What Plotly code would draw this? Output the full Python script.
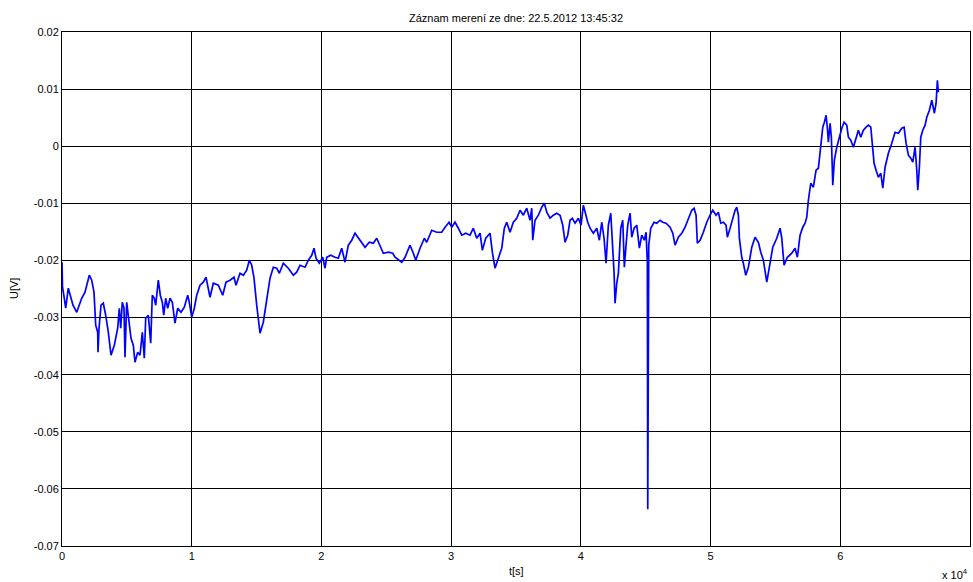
import plotly.graph_objects as go

# Recorded voltage U[V] against time t[s]
t_s = [
    0, 39, 177, 285, 486, 848, 1133, 1519, 1773, 1904, 2105, 2290, 2467, 2598, 2752, 2776,
    2853, 3007, 3184, 3369, 3570, 3778, 4032, 4294, 4418, 4526, 4649, 4780, 4857, 4988,
    5112, 5320, 5497, 5628, 5836, 6014, 6191, 6345, 6453, 6654, 6839, 6962, 7116, 7224,
    7425, 7579, 7733, 7841, 7995, 8150, 8327, 8504, 8712, 8920, 9175, 9429, 9691, 9815,
    10000, 10200, 10385, 10640, 10894, 11102,
    11411, 11665, 12051, 12390, 12644, 12953, 13261, 13415, 13724, 13978, 14240, 14441,
    14626, 14803, 15011, 15266, 15520, 15782, 16037, 16291, 16553, 16754, 17062, 17448,
    17833, 18096, 18350, 18735, 18990, 19252, 19429, 19583, 19838, 20100, 20277, 20408,
    20717, 21048, 21303, 21565, 21819, 22074, 22336, 22590, 22845, 23107, 23361, 23693,
    24001, 24264, 24518, 24772, 25158, 25497,
    25674, 26191, 26445, 26831, 27085, 27270, 27602, 27934, 28119, 28504, 28890, 29275,
    29529, 29838, 30046, 30300, 30555, 30817, 31125, 31457, 31711, 31973, 32228, 32405,
    32667, 32999, 33176, 33384, 33639, 33901, 34101, 34286, 34541, 34795, 35057, 35312,
    35566, 35828, 36083, 36214, 36291, 36468, 36723, 36985, 37185, 37370, 37625, 37879,
    38141, 38396, 38604, 38781, 38989, 39167, 39344, 39552, 39807, 40015, 40192, 40377,
    40531,
    40709, 40963, 41225, 41426, 41611, 41788, 41942, 42120, 42305, 42459, 42559, 42636,
    42767, 42891, 43076, 43230, 43353, 43484, 43615, 43793, 43924, 44101, 44309, 44510,
    44695, 44895, 45026, 45126, 45157, 45234, 45389, 45643, 45851, 46106, 46314, 46568,
    46877, 47085, 47262, 47517, 47779, 48033, 48288, 48550, 48727, 48881, 48981, 49190,
    49444, 49706, 49961, 50169, 50423, 50601, 50786, 50986, 51194, 51294, 51503, 51711,
    51888, 52019, 52144,
    52219, 52404, 52528, 52713, 52914, 53176, 53430, 53685, 53870, 54070, 54333, 54533,
    54795, 55104, 55358, 55489, 55666, 55921, 56260, 56514, 56692, 56900, 57108, 57285,
    57416,
    57540, 57725, 57926, 58133, 58311, 58496, 58650, 58774, 58905, 59005, 59082, 59213,
    59313, 59421, 59544, 59729, 59930, 60115, 60292, 60500, 60624, 60809, 61010, 61217,
    61395, 61580, 61780, 61988, 62166, 62351, 62505, 62605, 62759, 62937, 63122, 63276,
    63453, 63708, 63970, 64224, 64479, 64741, 64918, 65072, 65250, 65435, 65589, 65766,
    65897, 65974, 66097, 66205, 66359, 66537, 66668, 66869, 67054, 67178, 67255, 67385,
    67486, 67563,
]

u_v = [
    -0.02031, -0.02469, -0.02662, -0.02837, -0.02486, -0.02784, -0.02907, -0.02662,
    -0.02556, -0.02434, -0.02259, -0.02346, -0.02556, -0.03134, -0.03257, -0.03607,
    -0.03187, -0.02784, -0.02749, -0.02959, -0.03257, -0.03660, -0.03484, -0.03187,
    -0.02837, -0.03187, -0.02732, -0.02837, -0.03695, -0.02732, -0.02959, -0.03362,
    -0.03484, -0.03782, -0.03607, -0.03660, -0.03257, -0.03712, -0.03012, -0.02959,
    -0.03449, -0.02609, -0.02662, -0.02784, -0.02346, -0.02609, -0.02732, -0.02959,
    -0.02662, -0.02837, -0.02662, -0.02732, -0.03099, -0.02837, -0.02907, -0.02819,
    -0.02609, -0.02732, -0.02994, -0.02837, -0.02609, -0.02434, -0.02381, -0.02294,
    -0.02644, -0.02399, -0.02434, -0.02609, -0.02381, -0.02346, -0.02294, -0.02434,
    -0.02224, -0.02259, -0.02171, -0.01996, -0.02084, -0.02311, -0.02784, -0.03274,
    -0.03082, -0.02662, -0.02311, -0.02119, -0.02136, -0.02224, -0.02049, -0.02136,
    -0.02259, -0.02206, -0.02084, -0.02119, -0.01996, -0.01909, -0.01786, -0.01961,
    -0.02049, -0.01944, -0.02136, -0.01944, -0.01909, -0.01944, -0.01961, -0.01786,
    -0.02031, -0.01733, -0.01646, -0.01523, -0.01611, -0.01681, -0.01769, -0.01681,
    -0.01698, -0.01611, -0.01733, -0.01874, -0.01856, -0.01874,
    -0.01944, -0.02031, -0.01944, -0.01733, -0.01874, -0.01996, -0.01786, -0.01611,
    -0.01681, -0.01471, -0.01506, -0.01506, -0.01418, -0.01331, -0.01418, -0.01331,
    -0.01436, -0.01558, -0.01523, -0.01558, -0.01436, -0.01611, -0.01523, -0.01821,
    -0.01611, -0.01523, -0.01856, -0.02136, -0.01961, -0.01786, -0.01436, -0.01331,
    -0.01506, -0.01331, -0.01261, -0.01121, -0.01208, -0.01086, -0.01296, -0.01086,
    -0.01646, -0.01296, -0.01208, -0.01068, -0.00998, -0.01156, -0.01261, -0.01208,
    -0.01173, -0.01208, -0.01383, -0.01681, -0.01558, -0.01296, -0.01261, -0.01348,
    -0.01261, -0.01383, -0.01033, -0.01208, -0.01331,
    -0.01436, -0.01523, -0.01436, -0.01646, -0.01331, -0.01611, -0.02049, -0.01383,
    -0.01173, -0.01733, -0.02206, -0.02749, -0.02399, -0.02224, -0.01436, -0.01296,
    -0.02119, -0.01733, -0.01383, -0.01173, -0.01593, -0.01436, -0.01383, -0.01786,
    -0.01558, -0.01646, -0.01506, -0.02031, -0.06356, -0.01733, -0.01436, -0.01331,
    -0.01348, -0.01296, -0.01331, -0.01348, -0.01418, -0.01523, -0.01733, -0.01593,
    -0.01523, -0.01418, -0.01261, -0.01121, -0.01086, -0.01208, -0.01698, -0.01646,
    -0.01506, -0.01331, -0.01208, -0.01121, -0.01208, -0.01156, -0.01348, -0.01331,
    -0.01383, -0.01593, -0.01436, -0.01261, -0.01121, -0.01068, -0.01208,
    -0.01611, -0.01944, -0.02049, -0.02259, -0.02119, -0.01769, -0.01593, -0.01681,
    -0.01856, -0.01996, -0.02381, -0.02119, -0.01769, -0.01611, -0.01436, -0.01611,
    -0.02084, -0.01944, -0.01874, -0.01786, -0.01944, -0.01558, -0.01418, -0.01348,
    -0.01243,
    -0.00946, -0.00648, -0.00718, -0.00420, -0.00385, -0.00035, 0.00333, 0.00420,
    0.00543, 0.00315, 0.00070, 0.00403, 0.00158, -0.00683, -0.00245, -0.00018,
    0.00158, 0.00315, 0.00420, 0.00368, 0.00158, 0.00105, -0.00018, 0.00158,
    0.00280, 0.00158, 0.00280, 0.00333, 0.00368, 0.00333, -0.00070, -0.00298,
    -0.00420, -0.00543, -0.00473, -0.00735, -0.00368, -0.00123, 0.00053, 0.00245,
    0.00228, 0.00315, 0.00333, 0.00053, -0.00158, -0.00210, -0.00280, -0.00018,
    -0.00420, -0.00770, -0.00368, 0.00158, 0.00280, 0.00368, 0.00508, 0.00630,
    0.00805, 0.00683, 0.00578, 0.00753, 0.01156, 0.00946,
]

x_tick_vals = [0, 10000, 20000, 30000, 40000, 50000, 60000, 70000]
x_tick_text = ["0", "1", "2", "3", "4", "5", "6", "7"]
y_tick_vals = [0.02, 0.01, 0.0, -0.01, -0.02, -0.03, -0.04, -0.05, -0.06, -0.07]
y_tick_text = ["0.02", "0.01", "0", "-0.01", "-0.02", "-0.03", "-0.04", "-0.05", "-0.06", "-0.07"]

title_text = "Záznam merení ze dne: 22.5.2012 13:45:32"
x_label = "t[s]"
y_label = "U[V]"
x_exponent = "x 10<sup>4</sup>"

FONT = "Liberation Sans, Arial, Helvetica, sans-serif"

fig = go.Figure()
fig.add_trace(go.Scatter(
    x=t_s, y=u_v, mode="lines",
    line=dict(color="#0000ff", width=1.7),
    hoverinfo="x+y", showlegend=False,
))

axis_common = dict(
    showgrid=True, gridcolor="#000000", gridwidth=1,
    showline=True, linecolor="#000000", linewidth=1, mirror="allticks",
    ticks="inside", ticklen=5, tickcolor="#000000",
    zeroline=False,
    tickfont=dict(family=FONT, size=11, color="#000000"),
)

fig.update_layout(
    width=973, height=582,
    margin=dict(l=62, r=3, t=32, b=36),
    paper_bgcolor="#ffffff", plot_bgcolor="#ffffff",
    font=dict(family=FONT, size=11, color="#000000"),
    title=dict(text=title_text, x=0.5, xref="paper", y=1 - 18 / 582, yref="container",
               yanchor="middle", font=dict(family=FONT, size=11, color="#000000")),
    xaxis=dict(range=[0, 70000], tickvals=x_tick_vals, ticktext=x_tick_text, **axis_common),
    yaxis=dict(range=[-0.07, 0.02], tickvals=y_tick_vals, ticktext=y_tick_text, **axis_common),
    annotations=[
        dict(text=x_label, xref="paper", yref="paper", x=0.5, y=0, xanchor="center",
             yanchor="middle", yshift=-25, showarrow=False,
             font=dict(family=FONT, size=11, color="#000000")),
        dict(text=y_label, xref="paper", yref="paper", x=0, y=0.5, xanchor="center",
             yanchor="middle", xshift=-48, textangle=-90, showarrow=False,
             font=dict(family=FONT, size=11, color="#000000")),
        dict(text=x_exponent, xref="paper", yref="paper", x=1, y=0, xanchor="right",
             yanchor="middle", yshift=-28, showarrow=False,
             font=dict(family=FONT, size=11, color="#000000")),
    ],
)

fig.write_html("out.html")
